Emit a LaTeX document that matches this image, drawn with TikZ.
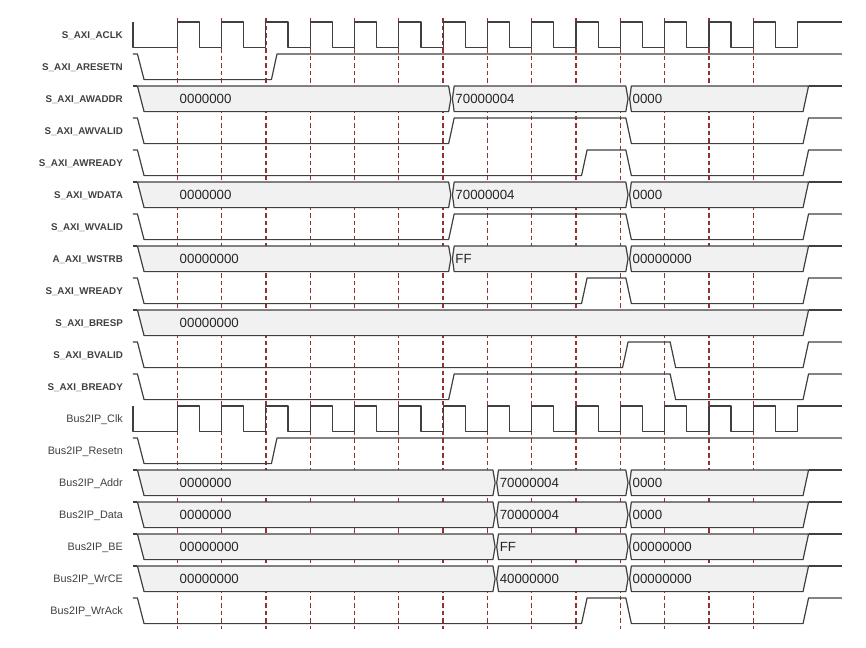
\documentclass[tikz,border=0pt]{standalone}
\usepackage{fontspec}
\setmainfont{Liberation Sans}
\definecolor{siggray}{RGB}{64,64,64}
\definecolor{busgray}{RGB}{241,241,241}
\definecolor{tickred}{RGB}{145,50,50}
\tikzset{
  sigline/.style={line width=1.2pt, siggray, line join=round},
  busbox/.style={sigline, fill=busgray},
  cycleline/.style={tickred, line width=1.25pt, dash pattern=on 4.5pt off 3pt},
  siglabel/.style={anchor=east, inner sep=0pt, text depth=0pt, text=siggray, font=\fontsize{9.8}{10}\selectfont\bfseries},
  buslabel/.style={siglabel, font=\fontsize{10.8}{11}\selectfont},
  vallabel/.style={anchor=west, inner sep=0pt, text depth=0pt, text=black!85, font=\fontsize{13.3}{14}\selectfont}
}

\begin{document}
\begin{tikzpicture}[x=22.15pt, y=-32pt]
\useasboundingbox (-6.0045,-0.6875) rectangle (33.0926,19.5625);

\foreach \k in {2,4,...,28}
  \draw[cycleline] (\k,-0.125) -- (\k,18.97);

% names
\foreach \row/\txt in {0/S\_AXI\_ACLK, 1/S\_AXI\_ARESETN, 2/S\_AXI\_AWADDR, 3/S\_AXI\_AWVALID,
    4/S\_AXI\_AWREADY, 5/S\_AXI\_WDATA, 6/S\_AXI\_WVALID, 7/A\_AXI\_WSTRB, 8/S\_AXI\_WREADY,
    9/S\_AXI\_BRESP, 10/S\_AXI\_BVALID, 11/S\_AXI\_BREADY}
  \node[siglabel] (lbl\row) at (-0.45,\row+0.4) {\txt};
\foreach \row/\txt in {12/Bus2IP\_Clk, 13/Bus2IP\_Resetn, 14/Bus2IP\_Addr, 15/Bus2IP\_Data,
    16/Bus2IP\_BE, 17/Bus2IP\_WrCE, 18/Bus2IP\_WrAck}
  \node[buslabel] (lbl\row) at (-0.45,\row+0.4) {\txt};

% clocks
\foreach \row in {0,12}
  \draw[sigline] (0,\row) -- (0,\row+0.8)
    \foreach \k in {2,4,...,28} { -- (\k,\row+0.8) -- (\k,\row) -- (\k+1,\row) -- (\k+1,\row+0.8) }
    -- (30,\row+0.8) -- (30,\row) -- (32,\row);

% resets
\foreach \row in {1,13}
  \draw[sigline] (0,\row) -- (0.2,\row) -- (0.5,\row+0.8) -- (6.25,\row+0.8) -- (6.5,\row) -- (32,\row);

% valid
\foreach \row in {3,6}
  \draw[sigline] (0,\row) -- (0.2,\row) -- (0.5,\row+0.8) -- (14.25,\row+0.8) -- (14.5,\row)
    -- (22.25,\row) -- (22.5,\row+0.8) -- (30.25,\row+0.8) -- (30.5,\row) -- (32,\row);

% ready and ack
\foreach \row in {4,8,18}
  \draw[sigline] (0,\row) -- (0.2,\row) -- (0.5,\row+0.8) -- (20.25,\row+0.8) -- (20.5,\row)
    -- (22.25,\row) -- (22.5,\row+0.8) -- (30.25,\row+0.8) -- (30.5,\row) -- (32,\row);

\draw[sigline] (0,10) -- (0.2,10) -- (0.5,10.8) -- (22.1,10.8) -- (22.35,10) -- (24.25,10)
  -- (24.5,10.8) -- (30.25,10.8) -- (30.5,10) -- (32,10);
\draw[sigline] (0,11) -- (0.2,11) -- (0.5,11.8) -- (14.25,11.8) -- (14.5,11) -- (24.25,11)
  -- (24.5,11.8) -- (30.25,11.8) -- (30.5,11) -- (32,11);

% buses
\foreach \row/\ta/\vA/\vB/\vC in {2/14.25/0000000/70000004/0000, 5/14.25/0000000/70000004/0000,
    7/14.25/00000000/FF/00000000, 14/16.25/0000000/70000004/0000, 15/16.25/0000000/70000004/0000,
    16/16.25/00000000/FF/00000000, 17/16.25/00000000/40000000/00000000} {
  \pgfmathsetmacro\tb{\ta+0.25}
  \draw[sigline] (0,\row) -- (0.2,\row);
  \draw[busbox] (0.2,\row) -- (\ta,\row) -- (\ta+0.1,\row+0.4) -- (\ta,\row+0.8) -- (0.5,\row+0.8) -- cycle;
  \draw[busbox] (\tb,\row) -- (22.25,\row) -- (22.35,\row+0.4) -- (22.25,\row+0.8) -- (\tb,\row+0.8)
    -- (\tb-0.08,\row+0.4) -- cycle;
  \draw[busbox] (22.5,\row) -- (30.5,\row) -- (30.25,\row+0.8) -- (22.5,\row+0.8) -- (22.42,\row+0.4) -- cycle;
  \draw[sigline] (30.5,\row) -- (32,\row);
  \node[vallabel] (va\row) at (2.1,\row+0.4) {\vA};
  \node[vallabel] (vb\row) at (\tb+0.05,\row+0.4) {\vB};
  \node[vallabel] (vc\row) at (22.55,\row+0.4) {\vC};
}

\draw[sigline] (0,9) -- (0.2,9);
\draw[busbox] (0.2,9) -- (30.5,9) -- (30.25,9.8) -- (0.5,9.8) -- cycle;
\draw[sigline] (30.5,9) -- (32,9);
\node[vallabel] (va9) at (2.1,9.4) {00000000};

\end{tikzpicture}
\end{document}
